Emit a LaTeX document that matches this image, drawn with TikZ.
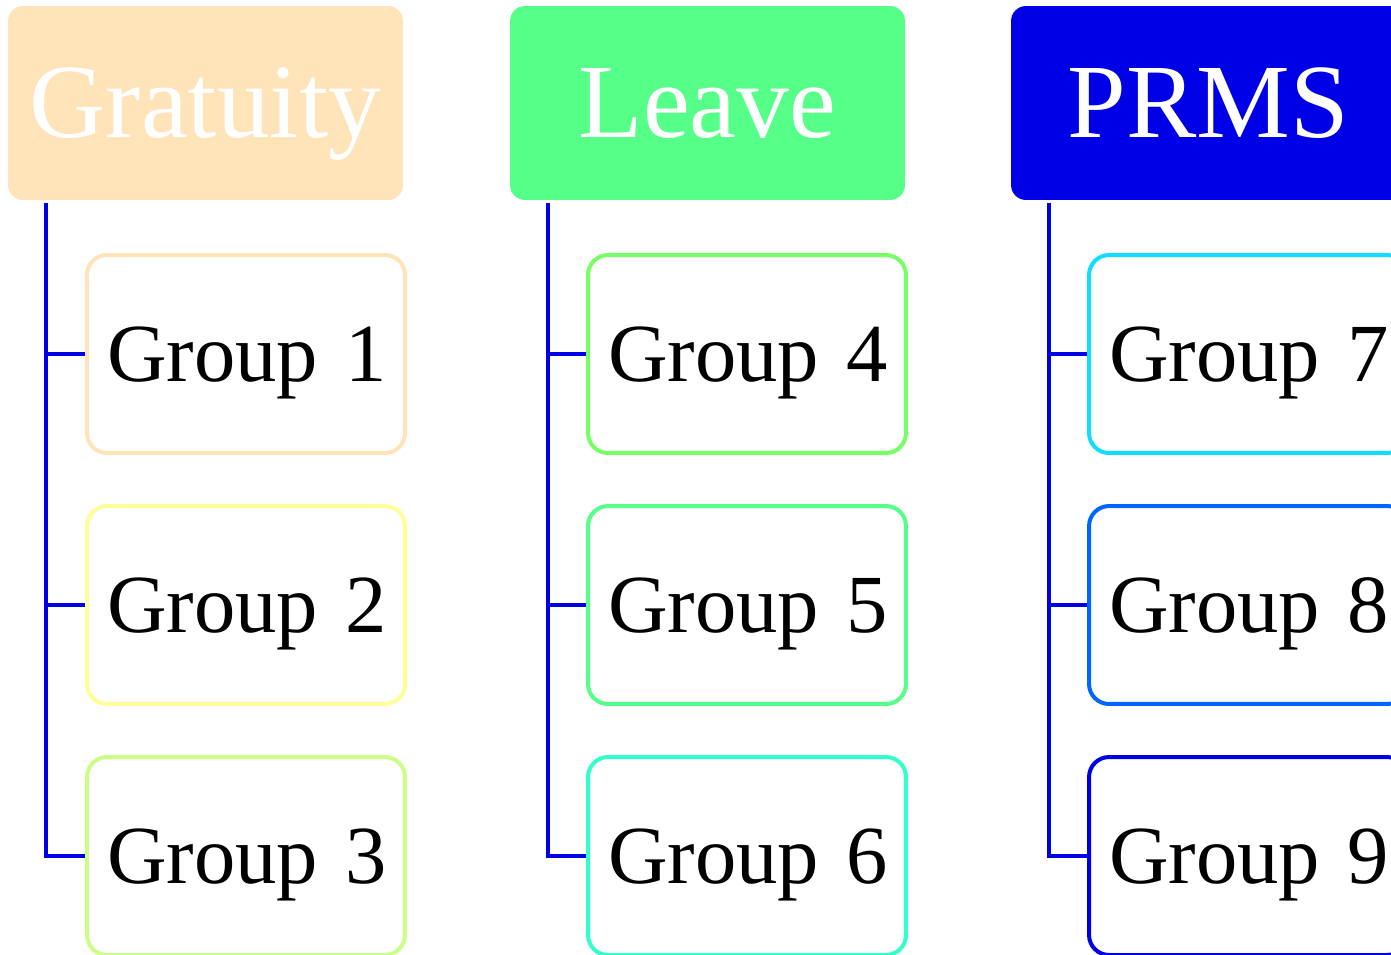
\documentclass[tikz,border=0pt]{standalone}
\usepackage{fontspec}
\setmainfont{Liberation Serif}
\usetikzlibrary{positioning}
\definecolor{gratcol}{RGB}{255,227,185}
\definecolor{leavecol}{RGB}{85,255,136}
\definecolor{prmsblue}{RGB}{0,0,230}
\definecolor{grpB}{RGB}{255,255,153}
\definecolor{grpC}{RGB}{204,255,136}
\definecolor{grpD}{RGB}{119,255,102}
\definecolor{grpE}{RGB}{85,255,136}
\definecolor{grpF}{RGB}{51,255,204}
\definecolor{grpG}{RGB}{17,221,255}
\definecolor{grpH}{RGB}{0,102,255}
\tikzset{
  head/.style={rectangle,rounded corners=0.3cm,minimum width=7.9cm,minimum height=3.88cm,
    inner sep=0pt,text=white,font=\fontsize{60}{60}\selectfont,text height=39.6pt,text depth=0pt},
  grp/.style={rectangle,rounded corners=0.4cm,draw=#1,line width=0.08cm,fill=white,
    minimum height=3.96cm,inner xsep=0.4cm,text width=5.56cm,align=left,
    font=\fontsize{47}{47}\selectfont,text height=31pt,text depth=0pt},
  trunk/.style={prmsblue,line width=0.08cm}
}
\begin{document}
\begin{tikzpicture}[x=0.02cm,y=-0.02cm]
  \clip (0,0) rectangle (1391,954);
  % headers
  \node[head,fill=gratcol] (gratuity) at (205.5,103) {Gratuity};
  \node[head,fill=leavecol] (leave) at (707.5,103) {Leave};
  \node[head,fill=prmsblue] (prms) at (1208.5,103) {PRMS};
  % groups
  \node[grp=gratcol] (g1) at (246,354) {Group~1};
  \node[grp=grpB] (g2) at (246,605) {Group~2};
  \node[grp=grpC] (g3) at (246,856) {Group~3};
  \node[grp=grpD] (g4) at (747,354) {Group~4};
  \node[grp=grpE] (g5) at (747,605) {Group~5};
  \node[grp=grpF] (g6) at (747,856) {Group~6};
  \node[grp=grpG] (g7) at (1248,354) {Group~7};
  \node[grp=grpH] (g8) at (1248,605) {Group~8};
  \node[grp=prmsblue] (g9) at (1248,856) {Group~9};
  % connectors
  \coordinate (t1) at ([xshift=0.76cm,yshift=-0.06cm]gratuity.south west);
  \coordinate (t2) at ([xshift=0.76cm,yshift=-0.06cm]leave.south west);
  \coordinate (t3) at ([xshift=0.76cm,yshift=-0.06cm]prms.south west);
  \draw[trunk] (t1) |- (g3.west);
  \draw[trunk] (g1.west) -- (g1.west -| t1);
  \draw[trunk] (g2.west) -- (g2.west -| t1);
  \draw[trunk] (t2) |- (g6.west);
  \draw[trunk] (g4.west) -- (g4.west -| t2);
  \draw[trunk] (g5.west) -- (g5.west -| t2);
  \draw[trunk] (t3) |- (g9.west);
  \draw[trunk] (g7.west) -- (g7.west -| t3);
  \draw[trunk] (g8.west) -- (g8.west -| t3);
\end{tikzpicture}
\end{document}
